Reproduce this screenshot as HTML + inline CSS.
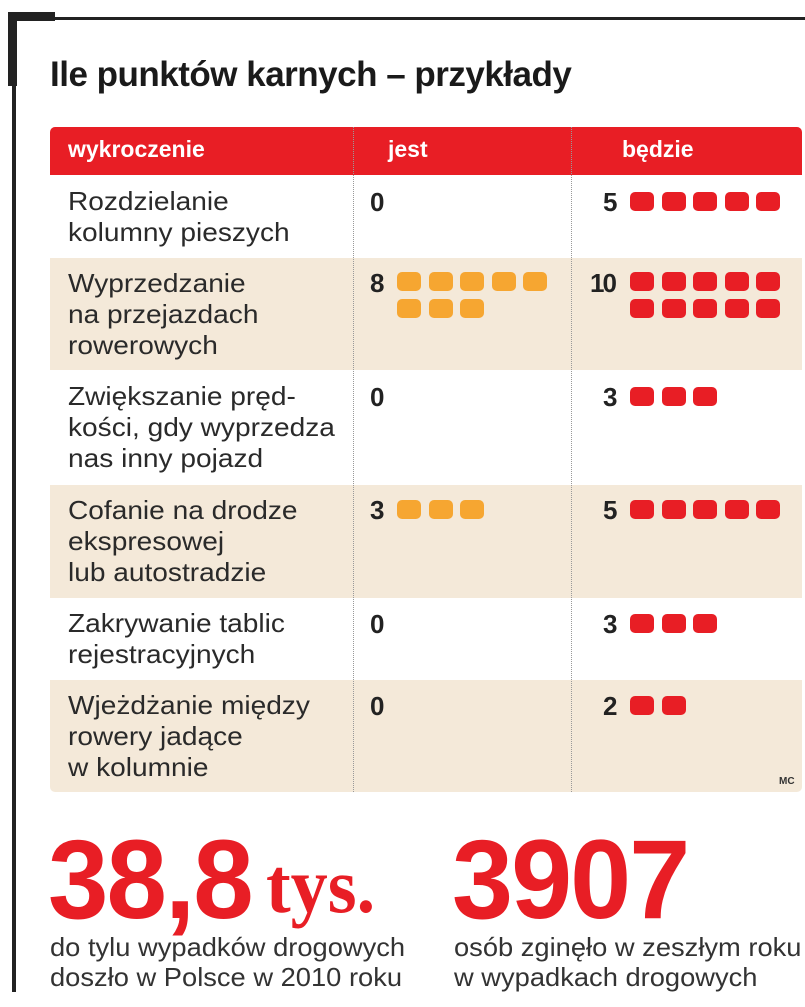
<!DOCTYPE html>
<html><head><meta charset="utf-8"><style>
body{margin:0;width:805px;height:1007px;background:#fff;position:relative;overflow:hidden;font-family:"Liberation Sans",sans-serif;color:#222}
div{position:absolute}
.t{left:68px;font-size:26px;line-height:31px;color:#2a2a2a;transform:scaleX(1.08);transform-origin:left;white-space:nowrap}
.n{font-size:26px;font-weight:bold;color:#222;line-height:30px}
.b{width:24px;height:19px;border-radius:5px}
.o{background:#f6a631}.r{background:#e81e25}
.bg{left:50px;width:752px;background:#f4e9d9}
.dv{top:127px;height:665px;border-left:1.5px dotted #999}
.big{font-weight:bold;color:#e81e25;font-size:112px;line-height:100px;transform:scaleX(.97);transform-origin:left;letter-spacing:-2px}
.sub{font-size:26px;line-height:30px;color:#333;transform:scaleX(1.05);transform-origin:left;white-space:nowrap}
.h{top:136px;color:#fff;font-weight:bold;font-size:23px;transform:scaleX(1.0);transform-origin:left}
</style></head><body>
<div style="left:12px;top:17px;width:793px;height:3px;background:#222"></div>
<div style="left:8px;top:12px;width:47px;height:9px;background:#222"></div>
<div style="left:8px;top:12px;width:9px;height:74px;background:#222"></div>
<div style="left:12px;top:80px;width:4px;height:912px;background:#222"></div>
<div style="left:50px;top:55px;font-size:35px;font-weight:bold;color:#1a1a1a;transform:scaleX(1.0);transform-origin:left;white-space:nowrap;letter-spacing:-0.5px">Ile punktów karnych – przykłady</div>
<div style="left:50px;top:127px;width:752px;height:48px;background:#e81e25;border-radius:5px 5px 0 0"></div>
<div class="h" style="left:68px">wykroczenie</div>
<div class="h" style="left:388px">jest</div>
<div class="h" style="left:622px">będzie</div>
<div class="bg" style="top:258px;height:112px"></div>
<div class="bg" style="top:485px;height:113px"></div>
<div class="bg" style="top:680px;height:112px;border-radius:0 0 5px 5px"></div>
<div class="dv" style="left:353px"></div>
<div class="dv" style="left:571px"></div>

<div class="t" style="top:186px">Rozdzielanie<br>kolumny pieszych</div>
<div class="n" style="left:370px;top:187px">0</div>
<div class="n" style="left:603px;top:187px">5</div>

<div class="t" style="top:268px">Wyprzedzanie<br>na przejazdach<br>rowerowych</div>
<div class="n" style="left:370px;top:268px">8</div>
<div class="n" style="left:590px;top:268px;letter-spacing:-2px">10</div>

<div class="t" style="top:381px">Zwiększanie pręd-<br>kości, gdy wyprzedza<br>nas inny pojazd</div>
<div class="n" style="left:370px;top:382px">0</div>
<div class="n" style="left:603px;top:382px">3</div>

<div class="t" style="top:495px">Cofanie na drodze<br>ekspresowej<br>lub autostradzie</div>
<div class="n" style="left:370px;top:495px">3</div>
<div class="n" style="left:603px;top:495px">5</div>

<div class="t" style="top:608px">Zakrywanie tablic<br>rejestracyjnych</div>
<div class="n" style="left:370px;top:609px">0</div>
<div class="n" style="left:603px;top:609px">3</div>

<div class="t" style="top:690px">Wjeżdżanie między<br>rowery jadące<br>w kolumnie</div>
<div class="n" style="left:370px;top:691px">0</div>
<div class="n" style="left:603px;top:691px">2</div>
<div style="left:779px;top:776px;font-size:10px;font-weight:bold;color:#333">MC</div>

<script>
function row(x,y,n,c){for(var i=0;i<n;i++){var d=document.createElement('div');d.className='b '+c;d.style.left=(x+i*31.5)+'px';d.style.top=y+'px';document.body.appendChild(d);}}
row(630,192,5,'r');
row(397,272,5,'o');row(397,299,3,'o');
row(630,272,5,'r');row(630,299,5,'r');
row(630,387,3,'r');
row(397,500,3,'o');row(630,500,5,'r');
row(630,614,3,'r');
row(630,696,2,'r');
</script>

<div class="big" style="left:48px;top:830px">38,8</div>
<div style="left:266px;top:846px;font-family:'Liberation Serif',serif;font-weight:bold;color:#e81e25;font-size:78px;line-height:80px;transform:scaleX(.95);transform-origin:left">tys.</div>
<div class="big" style="left:452px;top:830px;transform:scaleX(.98)">3907</div>
<div class="sub" style="left:50px;top:932px">do tylu wypadków drogowych<br>doszło w Polsce w 2010 roku</div>
<div class="sub" style="left:454px;top:932px">osób zginęło w zeszłym roku<br>w wypadkach drogowych</div>
</body></html>
